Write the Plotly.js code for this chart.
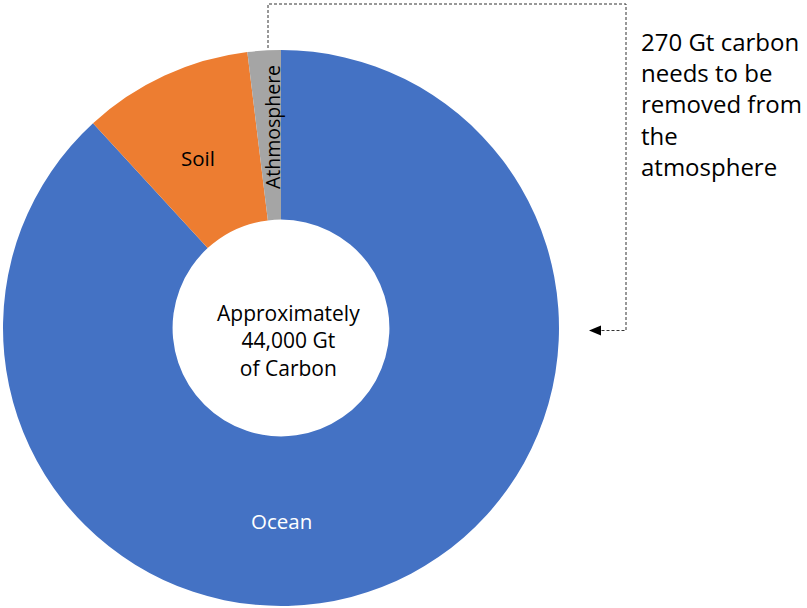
<!DOCTYPE html>
<html>
<head>
<meta charset="utf-8">
<script src="https://cdn.plot.ly/plotly-3.0.1.min.js"></script>
<style>html,body{margin:0;padding:0;background:#fff;}#chart{width:807px;height:608px;}</style>
</head>
<body>
<div id="chart"></div>
<script>
const labels = ["Ocean", "Soil", "Athmosphere"];
const values = [38800, 4350, 850];
const colors = ["#4472C4", "#ED7D31", "#A5A5A5"];
const centerText = "Approximately<br>44,000 Gt<br>of Carbon";
const noteText = "270 Gt carbon<br>needs to be<br>removed from<br>the<br>atmosphere";

const W = 807, H = 608;
const px = x => x / W;
const py = y => 1 - y / H;
const FONT = "Open Sans, Noto Sans, sans-serif";

const trace = {
  type: "pie",
  labels: labels,
  values: values,
  sort: false,
  direction: "clockwise",
  rotation: 0,
  hole: 0.39,
  marker: {colors: colors, line: {width: 0}},
  textinfo: "none",
  hoverinfo: "label+value",
  domain: {x: [px(3), px(559)], y: [py(606), py(50)]},
  showlegend: false
};

function ann(x, y, text, size, color, extra) {
  return Object.assign({x: px(x), y: py(y), xref: "paper", yref: "paper", text: text, showarrow: false,
    xanchor: "center", yanchor: "middle", align: "center",
    font: {size: size, color: color, family: FONT}}, extra || {});
}

const layout = {
  width: W, height: H,
  margin: {l: 0, r: 0, t: 0, b: 0},
  paper_bgcolor: "#fff",
  font: {family: FONT, color: "#000"},
  annotations: [
    ann(288, 340, centerText, 21, "#000"),
    ann(198, 158, labels[1], 20.5, "#000"),
    ann(273, 127, labels[2], 19.5, "#000", {textangle: -90}),
    ann(281, 521, labels[0], 20.5, "#fff"),
    ann(639, 23, noteText, 24, "#000", {xanchor: "left", yanchor: "top", align: "left"})
  ],
  shapes: [
    {type: "path", xref: "paper", yref: "paper",
     path: `M ${px(268)} ${py(48)} L ${px(268)} ${py(4)} L ${px(626)} ${py(4)} L ${px(626)} ${py(330.5)} L ${px(599)} ${py(330.5)}`,
     line: {color: "#333", width: 1, dash: "3px,2px"}},
    {type: "path", xref: "paper", yref: "paper",
     path: `M ${px(589)} ${py(330.5)} L ${px(601)} ${py(325.5)} L ${px(601)} ${py(335.5)} Z`,
     fillcolor: "#000", line: {color: "#000", width: 0}}
  ]
};

Plotly.newPlot("chart", [trace], layout, {displayModeBar: false, staticPlot: true});
</script>
</body>
</html>
